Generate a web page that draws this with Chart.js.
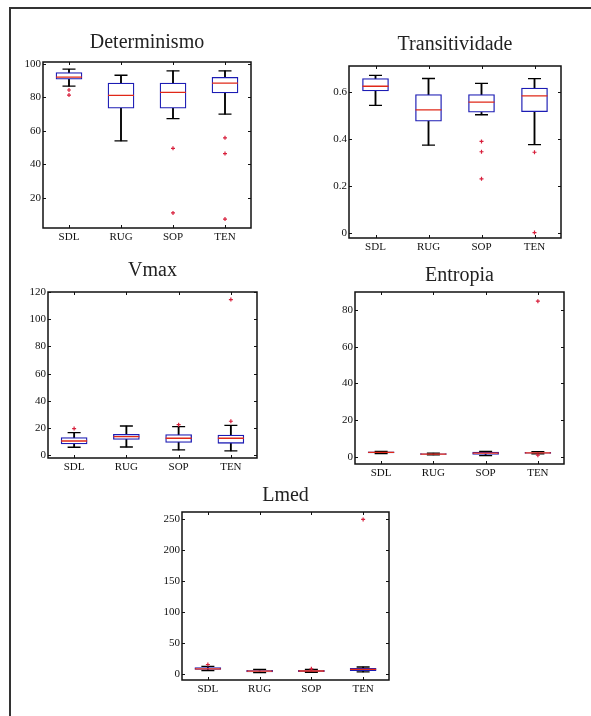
<!DOCTYPE html>
<html>
<head>
<meta charset="utf-8">
<script src="https://cdn.jsdelivr.net/npm/chart.js@4.4.1/dist/chart.umd.min.js"></script>
<style>
  body { margin: 0; background: #fff; }
  #page { position: relative; width: 591px; height: 716px; overflow: hidden; }
  #frame { position: absolute; left: 9px; top: 7px; width: 600px; height: 720px;
           border-top: 2px solid #333; border-left: 2px solid #333; }
  canvas { position: absolute; }
</style>
</head>
<body>
<div id="page">
  <div id="frame"></div>
  <canvas id="det" width="242" height="219" style="left:13px;top:27px"></canvas>
  <canvas id="tra" width="246" height="227" style="left:319px;top:29px"></canvas>
  <canvas id="vmax" width="243" height="221" style="left:18px;top:255px"></canvas>
  <canvas id="ent" width="243" height="222" style="left:325px;top:260px"></canvas>
  <canvas id="lmed" width="241" height="218" style="left:152px;top:480px"></canvas>
</div>
<script>
const categories = ['SDL', 'RUG', 'SOP', 'TEN'];

// Determinismo
const detLow = [86.6, 54, 67.2, 69.9];
const detQ1 = [90.8, 73.5, 73.5, 82.5];
const detMed = [92, 81.1, 82.9, 88.4];
const detQ3 = [94.7, 88.4, 88.4, 91.9];
const detHigh = [96.7, 93.1, 95.7, 95.7];
const detOut = [[84.3, 81.3], [], [49.5, 11], [55.8, 46.4, 7.3]];
const detTicks = [20, 40, 60, 80, 100];

// Transitividade
const traLow = [0.543, 0.374, 0.503, 0.376];
const traQ1 = [0.604, 0.476, 0.514, 0.516];
const traMed = [0.624, 0.524, 0.557, 0.583];
const traQ3 = [0.657, 0.589, 0.589, 0.616];
const traHigh = [0.67, 0.657, 0.636, 0.656];
const traOut = [[], [], [0.39, 0.346, 0.231], [0.344, 0.003]];
const traTicks = [0, 0.2, 0.4, 0.6];

// Vmax
const vmaxLow = [5.9, 6.1, 3.9, 3.2];
const vmaxQ1 = [8.3, 11.7, 9.5, 8.8];
const vmaxMed = [10.5, 13.7, 12.5, 12.5];
const vmaxQ3 = [13, 15.4, 15.2, 14.9];
const vmaxHigh = [16.6, 21.5, 21, 22];
const vmaxOut = [[19.6], [], [22.5], [25, 114.4]];
const vmaxTicks = [0, 20, 40, 60, 80, 100, 120];

// Entropia
const entLow = [1.7, 1.0, 0.6, 1.5];
const entQ1 = [2.0, 1.2, 1.2, 1.8];
const entMed = [2.3, 1.4, 1.9, 2.1];
const entQ3 = [2.6, 1.7, 2.5, 2.4];
const entHigh = [2.9, 1.9, 2.9, 2.8];
const entOut = [[], [], [], [0.8, 85]];
const entTicks = [0, 20, 40, 60, 80];

// Lmed
const lmedLow = [5, 2, 2.5, 3];
const lmedQ1 = [7, 3, 3.5, 5];
const lmedMed = [8, 4.2, 4.5, 7];
const lmedQ3 = [10, 5.5, 5.5, 9];
const lmedHigh = [12, 7, 7, 11];
const lmedOut = [[15], [], [8], [249]];
const lmedTicks = [0, 50, 100, 150, 200, 250];

Chart.defaults.font.family = "'Liberation Serif', 'Times New Roman', serif";
Chart.defaults.color = '#111';

// box outline + inward tick marks on all four sides, like the original plots
const framePlugin = {
    id: 'frame',
    afterDraw(chart) {
        const { ctx, chartArea: a, scales: { x, y } } = chart;
        ctx.save();
        ctx.strokeStyle = '#111';
        ctx.lineWidth = 1;
        ctx.beginPath();
        x.ticks.forEach((t, i) => {
            const px = Math.round(x.getPixelForTick(i)) + 0.5;
            ctx.moveTo(px, a.bottom); ctx.lineTo(px, a.bottom - 3);
            ctx.moveTo(px, a.top); ctx.lineTo(px, a.top + 3);
        });
        y.ticks.forEach((t, i) => {
            const py = Math.round(y.getPixelForTick(i)) + 0.5;
            ctx.moveTo(a.left, py); ctx.lineTo(a.left + 3, py);
            ctx.moveTo(a.right, py); ctx.lineTo(a.right - 3, py);
        });
        ctx.stroke();
        ctx.lineWidth = 1.5;
        ctx.strokeRect(a.left, a.top, a.width, a.height);
        ctx.restore();
    }
};

function points(values) {
    return categories.map((c, i) => ({ x: c, y: values[i] }));
}

function makeBoxPlot(id, title, low, q1, med, q3, high, outliers, yTicks, yMin, yMax, titleGap) {
    const capPoints = points(low).concat(points(high));
    const outPoints = [];
    outliers.forEach((list, i) => list.forEach(v => outPoints.push({ x: categories[i], y: v })));

    new Chart(document.getElementById(id), {
        type: 'bar',
        data: {
            labels: categories,
            datasets: [
                {
                    type: 'line', label: 'outliers', data: outPoints, showLine: false,
                    pointStyle: 'cross', pointRadius: 2, pointBorderColor: '#d8203c', pointBorderWidth: 1.2
                },
                {
                    type: 'line', label: 'median', data: points(med), showLine: false,
                    pointStyle: 'line', pointRadius: 13, pointBorderColor: '#e02818', pointBorderWidth: 1.3
                },
                {
                    type: 'line', label: 'caps', data: capPoints, showLine: false,
                    pointStyle: 'line', pointRadius: 6.5, pointBorderColor: '#000', pointBorderWidth: 1.3
                },
                {
                    label: 'box', data: categories.map((c, i) => [q1[i], q3[i]]),
                    backgroundColor: '#fff', borderColor: '#1c1cb4', borderWidth: 1.3,
                    borderSkipped: false, barThickness: 26, grouped: false
                },
                {
                    label: 'whisker', data: categories.map((c, i) => [low[i], high[i]]),
                    backgroundColor: '#000', borderWidth: 0, barThickness: 1.2, grouped: false
                }
            ]
        },
        options: {
            responsive: false,
            devicePixelRatio: 1,
            animation: false,
            events: [],
            layout: { autoPadding: false, padding: { left: 0, top: 0, right: 4, bottom: 0 } },
            plugins: {
                legend: { display: false },
                tooltip: { enabled: false },
                title: {
                    display: true, text: title, fullSize: false, color: '#222',
                    font: { size: 20, weight: 'normal', lineHeight: 1.2 },
                    padding: { top: 4, bottom: titleGap }
                }
            },
            scales: {
                x: {
                    type: 'category', offset: true,
                    grid: { display: false, drawTicks: false },
                    border: { display: false },
                    ticks: { font: { size: 11 }, padding: 3, color: '#111' },
                    afterFit: s => { s.height = 18; s.paddingLeft = 0; s.paddingRight = 0; }
                },
                y: {
                    min: yMin, max: yMax,
                    grid: { display: false, drawTicks: false },
                    border: { display: false },
                    ticks: { font: { size: 11 }, padding: 2, color: '#111', callback: v => String(v) },
                    afterBuildTicks: s => { s.ticks = yTicks.map(v => ({ value: v })); },
                    afterFit: s => { s.width = 30; s.paddingTop = 0; s.paddingBottom = 0; }
                }
            }
        },
        plugins: [framePlugin]
    });
}

makeBoxPlot('det', 'Determinismo', detLow, detQ1, detMed, detQ3, detHigh, detOut, detTicks, 2, 101, 7);
makeBoxPlot('tra', 'Transitividade', traLow, traQ1, traMed, traQ3, traHigh, traOut, traTicks, -0.02, 0.71, 9);
makeBoxPlot('vmax', 'Vmax', vmaxLow, vmaxQ1, vmaxMed, vmaxQ3, vmaxHigh, vmaxOut, vmaxTicks, -2, 120, 9);
makeBoxPlot('ent', 'Entropia', entLow, entQ1, entMed, entQ3, entHigh, entOut, entTicks, -4, 90, 4);
makeBoxPlot('lmed', 'Lmed', lmedLow, lmedQ1, lmedMed, lmedQ3, lmedHigh, lmedOut, lmedTicks, -10, 261, 4);
</script>
</body>
</html>
